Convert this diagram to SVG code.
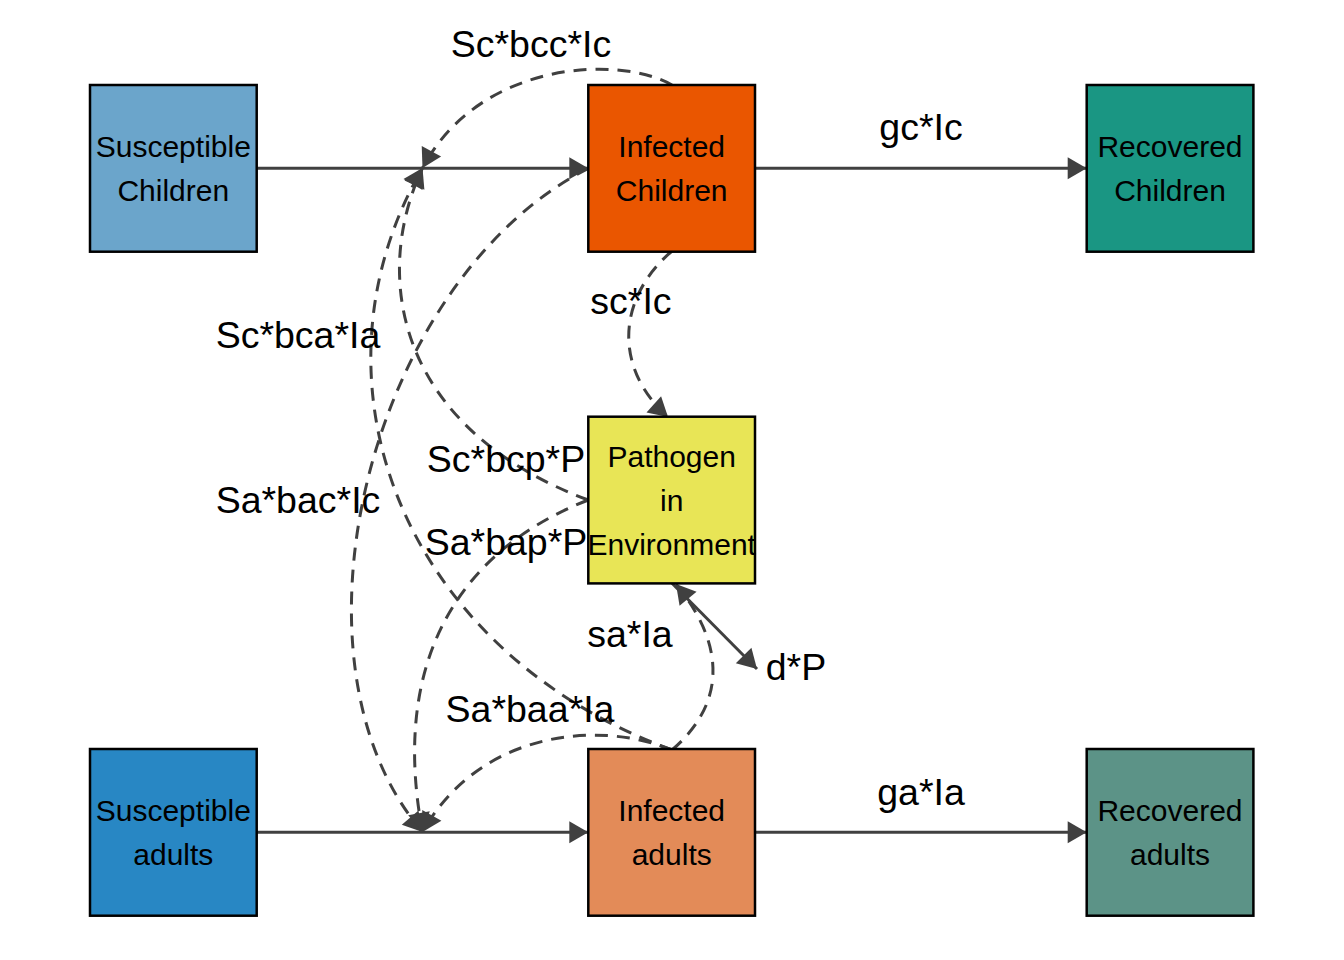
<svg xmlns="http://www.w3.org/2000/svg" width="1344" height="960" viewBox="0 0 1344 960">
<style>
  .box { stroke: #000; stroke-width: 2.5; }
  .ntxt { font-family: "Liberation Sans", Arial, sans-serif; font-size: 30px; fill: #000; text-anchor: middle; }
  .lbl { font-family: "Liberation Sans", Arial, sans-serif; font-size: 37.5px; fill: #000; text-anchor: middle; }
  .flow { fill: none; stroke: #404040; stroke-width: 3; marker-end: url(#ah); }
  .int { fill: none; stroke: #404040; stroke-width: 3; stroke-dasharray: 13 9; marker-end: url(#ah); }
</style>
<defs>
  <marker id="ah" markerUnits="userSpaceOnUse" markerWidth="22" markerHeight="24" refX="19" refY="11" orient="auto" overflow="visible">
    <path d="M0,0 L19,11 L0,22 Z" fill="#404040" stroke="none"/>
  </marker>
</defs>
<rect width="1344" height="960" fill="#fff"/>

<g id="connectors">
  <path class="flow" d="M256.7,168.3 L588.3,168.3"/>
  <path class="flow" d="M755,168.3 L1086.7,168.3"/>
  <path class="flow" d="M256.7,832.3 L588.3,832.3"/>
  <path class="flow" d="M755,832.3 L1086.7,832.3"/>
  <path class="flow" d="M672,583.3 L757,669"/>
  <path class="int" d="M672,85 C620,55 480,60 422.5,168"/>
  <path class="int" d="M672,750 C400,650 300,380 422.5,168"/>
  <path class="int" d="M588.3,500 C400,430 370,280 422.5,168"/>
  <path class="int" d="M588.3,168.3 C370,280 275,660 422.5,832"/>
  <path class="int" d="M588.3,500 C460,550 390,660 422.5,832"/>
  <path class="int" d="M672,750 C600,720 480,730 422.5,832"/>
  <path class="int" d="M672,251 C615,300 615,370 668,417"/>
  <path class="int" d="M672,750 C730,700 722,640 676,584"/>
</g>

<g id="labels">
  <text class="lbl" x="531" y="57">Sc*bcc*Ic</text>
  <text class="lbl" x="921" y="140">gc*Ic</text>
  <text class="lbl" x="631" y="314">sc*Ic</text>
  <text class="lbl" x="298" y="348">Sc*bca*Ia</text>
  <text class="lbl" x="506" y="472">Sc*bcp*P</text>
  <text class="lbl" x="298" y="513">Sa*bac*Ic</text>
  <text class="lbl" x="506" y="555">Sa*bap*P</text>
  <text class="lbl" x="630" y="647">sa*Ia</text>
  <text class="lbl" x="796" y="680">d*P</text>
  <text class="lbl" x="530" y="722">Sa*baa*Ia</text>
  <text class="lbl" x="921" y="805">ga*Ia</text>
</g>

<g id="susceptible-children">
  <rect class="box" x="90" y="85" width="166.7" height="166.7" fill="#6BA5CB"/>
  <text class="ntxt" x="173.3" y="157.3">Susceptible</text>
  <text class="ntxt" x="173.3" y="201.3">Children</text>
</g>
<g id="infected-children">
  <rect class="box" x="588.3" y="85" width="166.7" height="166.7" fill="#EA5600"/>
  <text class="ntxt" x="671.7" y="157.3">Infected</text>
  <text class="ntxt" x="671.7" y="201.3">Children</text>
</g>
<g id="recovered-children">
  <rect class="box" x="1086.7" y="85" width="166.7" height="166.7" fill="#1A9683"/>
  <text class="ntxt" x="1170" y="157.3">Recovered</text>
  <text class="ntxt" x="1170" y="201.3">Children</text>
</g>
<g id="pathogen">
  <rect class="box" x="588.3" y="416.7" width="166.7" height="166.7" fill="#E8E556"/>
  <text class="ntxt" x="671.7" y="467">Pathogen</text>
  <text class="ntxt" x="671.7" y="511">in</text>
  <text class="ntxt" x="671.7" y="555">Environment</text>
</g>
<g id="susceptible-adults">
  <rect class="box" x="90" y="749" width="166.7" height="166.7" fill="#2887C4"/>
  <text class="ntxt" x="173.3" y="821.3">Susceptible</text>
  <text class="ntxt" x="173.3" y="865.3">adults</text>
</g>
<g id="infected-adults">
  <rect class="box" x="588.3" y="749" width="166.7" height="166.7" fill="#E38B58"/>
  <text class="ntxt" x="671.7" y="821.3">Infected</text>
  <text class="ntxt" x="671.7" y="865.3">adults</text>
</g>
<g id="recovered-adults">
  <rect class="box" x="1086.7" y="749" width="166.7" height="166.7" fill="#5C9387"/>
  <text class="ntxt" x="1170" y="821.3">Recovered</text>
  <text class="ntxt" x="1170" y="865.3">adults</text>
</g>
</svg>
